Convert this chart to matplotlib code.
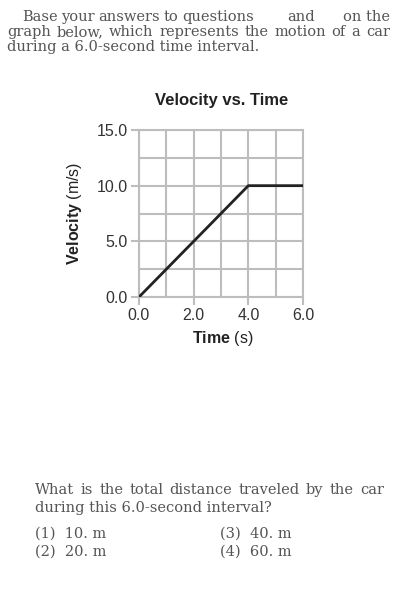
import matplotlib
matplotlib.use("Agg")
import matplotlib.pyplot as plt

# velocity-time data
times = [0.0, 4.0, 6.0]
velocities = [0.0, 10.0, 10.0]

x_ticks = [0, 2, 4, 6]
x_labels = ["0.0", "2.0", "4.0", "6.0"]
y_ticks = [0, 5, 10, 15]
y_labels = ["0.0", "5.0", "10.0", "15.0"]

intro_parts = ["Base your answers to questions", "and", "on the"]
intro_lines = ["graph below, which represents the motion of a car",
               "during a 6.0-second time interval."]
question_lines = ["What is the total distance traveled by the car",
                  "during this 6.0-second interval?"]
choices = ["(1)  10. m", "(2)  20. m", "(3)  40. m", "(4)  60. m"]

plt.rcParams['mathtext.fontset'] = 'custom'
plt.rcParams['mathtext.bf'] = 'Liberation Sans:bold'
plt.rcParams['mathtext.rm'] = 'Liberation Sans'

W, H = 401, 609
fig = plt.figure(figsize=(W / 100, H / 100), dpi=100)
renderer = fig.canvas.get_renderer()


def px(x, y):
    # pixel position (from top left) to figure fraction
    return x / W, 1 - y / H


serif = dict(family="DejaVu Serif", fontsize=10.5, color="#555555", va="baseline")


def spread(line, x0, x1, y):
    # lay the words of a line out so it runs from x0 to x1 (justified)
    words = line.split()
    texts = [fig.text(0, 0, w, **serif) for w in words]
    widths = [t.get_window_extent(renderer).width for t in texts]
    gap = (x1 - x0 - sum(widths)) / max(len(words) - 1, 1)
    x = x0
    for t, w in zip(texts, widths):
        t.set_position(px(x, y))
        x += w + gap


# intro paragraph (gaps left for the question numbers)
spread(intro_parts[0], 22, 254, 21)
fig.text(*px(287, 21), intro_parts[1], ha="left", **serif)
fig.text(*px(390, 21), intro_parts[2], ha="right", **serif)
spread(intro_lines[0], 7, 390, 36)
fig.text(*px(7, 51), intro_lines[1], ha="left", **serif)

# question and choices
spread(question_lines[0], 35, 384, 494)
fig.text(*px(35, 512), question_lines[1], ha="left", **serif)
for i, c in enumerate(choices):
    col, row = divmod(i, 2)
    fig.text(*px(35 + col * 185, 538 + row * 18), c, ha="left", **serif)

# the graph
left, right, top, bottom = 139, 303, 130, 297
ax = fig.add_axes([left / W, 1 - bottom / H, (right - left) / W, (bottom - top) / H])
grid_col = "#bdbdbd"
ax.plot(times, velocities, color="#222222", lw=2, solid_capstyle="butt", zorder=3)
ax.set_xlim(0, 6)
ax.set_ylim(0, 15)
ax.set_xticks(x_ticks)
ax.set_xticklabels(x_labels)
ax.set_yticks(y_ticks)
ax.set_yticklabels(y_labels)
ax.set_xticks([1, 3, 5], minor=True)
ax.set_yticks([2.5, 7.5, 12.5], minor=True)
ax.grid(True, which="both", color=grid_col, lw=1.5)
ax.set_axisbelow(True)
for s in ax.spines.values():
    s.set_color(grid_col)
    s.set_linewidth(1.5)
ax.tick_params(which="major", length=6, width=1.5, color=grid_col,
               labelsize=11.5, labelcolor="#333333", pad=2)
ax.tick_params(which="minor", length=0)
for lab in ax.get_xticklabels() + ax.get_yticklabels():
    lab.set_family("Liberation Sans")

fig.text(*px(222, 100), "Velocity vs. Time", ha="center", va="center",
         family="Liberation Sans", fontweight="bold", fontsize=12, color="#222222")
fig.text(*px(223, 339), r"$\mathbf{Time}$ (s)", ha="center", va="center",
         family="Liberation Sans", fontsize=11.5, color="#222222")
fig.text(*px(75, 213), r"$\mathbf{Velocity}$ (m/s)", ha="center", va="center",
         rotation=90, family="Liberation Sans", fontsize=11.5, color="#222222")

fig.savefig("out.png", dpi=100, facecolor="white")
